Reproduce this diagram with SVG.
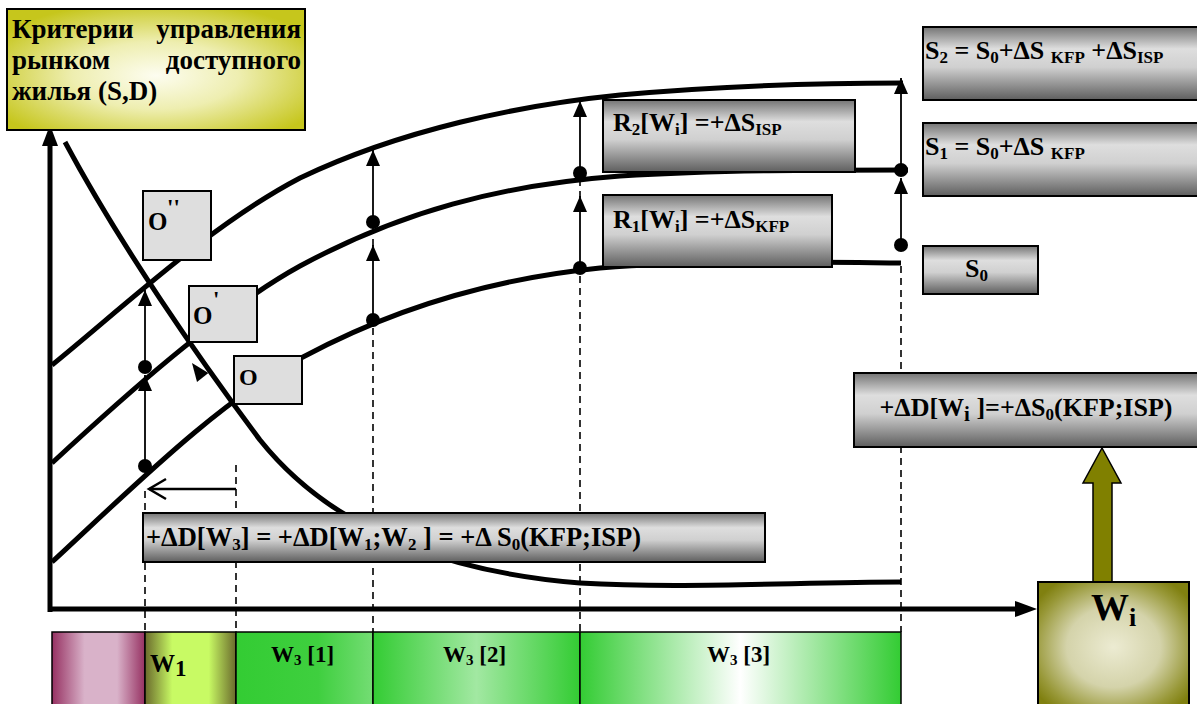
<svg xmlns="http://www.w3.org/2000/svg" width="1197" height="704" viewBox="0 0 1197 704">
  <defs>
    <style>
      .t { font-family: "Liberation Serif", "Times New Roman", serif; font-weight: bold; fill: #000; }
      .box { stroke: #000; stroke-width: 2; }
      .metal { fill: url(#metal); stroke: #000; stroke-width: 2; }
      .curve { fill: none; stroke: #000; stroke-width: 5; stroke-linecap: butt; }
      .axis { fill: none; stroke: #000; stroke-width: 5; }
      .thin { fill: none; stroke: #000; stroke-width: 1.8; }
      .dash { fill: none; stroke: #000; stroke-width: 1.6; stroke-dasharray: 7 5; }
      .seg { stroke: #000; stroke-width: 1.5; }
      .dot { fill: #000; }
      .sq { fill: #dedede; stroke: #000; stroke-width: 2; }
    </style>
    <linearGradient id="metal" x1="0" y1="0" x2="0" y2="1">
      <stop offset="0" stop-color="#747474"/>
      <stop offset="0.3" stop-color="#dedede"/>
      <stop offset="0.55" stop-color="#d0d0d0"/>
      <stop offset="1" stop-color="#5e5e5e"/>
    </linearGradient>
    <radialGradient id="yellowGlow" cx="0.5" cy="0.55" r="0.62">
      <stop offset="0" stop-color="#fdfdf0"/>
      <stop offset="0.45" stop-color="#eeeeb0"/>
      <stop offset="1" stop-color="#c6c61c"/>
    </radialGradient>
    <radialGradient id="oliveGlow" cx="0.5" cy="0.5" r="0.62">
      <stop offset="0" stop-color="#ecebd2"/>
      <stop offset="0.5" stop-color="#d4d3aa"/>
      <stop offset="0.85" stop-color="#989838"/>
      <stop offset="1" stop-color="#808010"/>
    </radialGradient>
    <linearGradient id="gPurple" x1="0" y1="0" x2="1" y2="0">
      <stop offset="0" stop-color="#963162"/>
      <stop offset="0.35" stop-color="#d9b2c9"/>
      <stop offset="0.7" stop-color="#d9b2c9"/>
      <stop offset="1" stop-color="#963162"/>
    </linearGradient>
    <linearGradient id="gLime" x1="0" y1="0" x2="1" y2="0">
      <stop offset="0" stop-color="#6a6a2c"/>
      <stop offset="0.3" stop-color="#c8fa64"/>
      <stop offset="0.7" stop-color="#c8fa64"/>
      <stop offset="1" stop-color="#6a6a2c"/>
    </linearGradient>
    <linearGradient id="gGreen1" x1="0" y1="0" x2="1" y2="0">
      <stop offset="0" stop-color="#33cc33"/>
      <stop offset="0.6" stop-color="#3fcf3f"/>
      <stop offset="1" stop-color="#74dd74"/>
    </linearGradient>
    <linearGradient id="gGreen2" x1="0" y1="0" x2="1" y2="0">
      <stop offset="0" stop-color="#33cc33"/>
      <stop offset="0.5" stop-color="#a2e8a2"/>
      <stop offset="1" stop-color="#33cc33"/>
    </linearGradient>
    <linearGradient id="gGreen3" x1="0" y1="0" x2="1" y2="0">
      <stop offset="0" stop-color="#33cc33"/>
      <stop offset="0.5" stop-color="#ffffff"/>
      <stop offset="1" stop-color="#33cc33"/>
    </linearGradient>
    <marker id="tip" viewBox="0 0 16 14" refX="16" refY="7" markerWidth="16" markerHeight="14" markerUnits="userSpaceOnUse" orient="auto">
      <path d="M0,0 L16,7 L0,14 Z" fill="#000"/>
    </marker>
  </defs>

  <!-- segmented W scale along the bottom -->
  <g id="scale">
    <rect class="seg" x="52" y="632" width="93" height="80" fill="url(#gPurple)"/>
    <rect class="seg" x="145" y="632" width="91" height="80" fill="url(#gLime)"/>
    <rect class="seg" x="236" y="632" width="137" height="80" fill="url(#gGreen1)"/>
    <rect class="seg" x="373" y="632" width="207" height="80" fill="url(#gGreen2)"/>
    <rect class="seg" x="580" y="632" width="321" height="80" fill="url(#gGreen3)"/>
    <text class="t" x="150" y="672" font-size="25">W<tspan font-size="23" dy="4">1</tspan></text>
    <text class="t" x="271" y="662" font-size="23">W<tspan font-size="15" dy="3">3</tspan><tspan dy="-3"> [1]</tspan></text>
    <text class="t" x="443" y="662" font-size="23">W<tspan font-size="15" dy="3">3</tspan><tspan dy="-3"> [2]</tspan></text>
    <text class="t" x="707" y="662" font-size="23">W<tspan font-size="15" dy="3">3</tspan><tspan dy="-3"> [3]</tspan></text>
  </g>

  <!-- axes, curves and auxiliary lines -->
  <g id="connectors">
    <!-- dashed projections -->
    <line class="dash" x1="145" y1="491" x2="145" y2="632"/>
    <line class="dash" x1="236" y1="465" x2="236" y2="632"/>
    <line class="dash" x1="373" y1="328" x2="373" y2="632"/>
    <line class="dash" x1="580" y1="276" x2="580" y2="632"/>
    <line class="dash" x1="901" y1="266" x2="901" y2="632"/>
    <line class="dash" x1="373" y1="246" x2="373" y2="228"/>
    <line class="dash" x1="580" y1="198" x2="580" y2="180"/>

    <!-- axes -->
    <path class="axis" d="M50,612 L50,142"/>
    <path d="M42,146 L50,125 L58,146 Z" fill="#000"/>
    <path class="axis" d="M48,609 L1018,609"/>
    <path d="M1015,601 L1037,609 L1015,617 Z" fill="#000"/>

    <!-- supply curves S0, S1, S2 -->
    <path class="curve" d="M52,562 C130,490 220,400 303,357 C400,305 500,278 600,268 C700,260 800,262 901,263"/>
    <path class="curve" d="M52,463 C120,400 220,310 300,266 C400,212 500,185 620,176 C720,170 820,170 908,170"/>
    <path class="curve" d="M52,365 C120,310 210,225 300,178 C400,130 520,105 620,95 C720,86 820,83 903,83"/>

    <!-- demand curve D -->
    <path class="curve" d="M65,142 C120,245 200,360 260,440 C320,515 420,570 580,583 C680,589 800,582 901,582"/>
    <path d="M192,363 L208.4,373 L197,382 Z" fill="#000"/>

    <!-- shift arrows between curves -->
    <line class="thin" x1="145" y1="466" x2="145" y2="375" marker-end="url(#tip)"/>
    <line class="thin" x1="145" y1="367" x2="145" y2="290" marker-end="url(#tip)"/>
    <line class="thin" x1="373" y1="320" x2="373" y2="245" marker-end="url(#tip)"/>
    <line class="thin" x1="373" y1="222" x2="373" y2="150" marker-end="url(#tip)"/>
    <line class="thin" x1="580" y1="268" x2="580" y2="196" marker-end="url(#tip)"/>
    <line class="thin" x1="580" y1="173" x2="580" y2="101" marker-end="url(#tip)"/>
    <line class="thin" x1="901" y1="245" x2="901" y2="178" marker-end="url(#tip)"/>
    <line class="thin" x1="901" y1="170" x2="901" y2="78" marker-end="url(#tip)"/>
    <circle class="dot" cx="145" cy="466" r="7"/>
    <circle class="dot" cx="145" cy="367" r="7"/>
    <circle class="dot" cx="373" cy="320" r="7"/>
    <circle class="dot" cx="373" cy="222" r="7"/>
    <circle class="dot" cx="580" cy="268" r="7"/>
    <circle class="dot" cx="580" cy="173" r="7"/>
    <circle class="dot" cx="901" cy="245" r="7"/>
    <circle class="dot" cx="901" cy="170" r="7"/>

    <!-- demand shift arrow -->
    <path d="M236,489 L149,489" fill="none" stroke="#000" stroke-width="2.5"/>
    <path d="M166,479 L149,489 L166,499" fill="none" stroke="#000" stroke-width="2.5"/>

    <!-- olive arrow from W_i -->
    <path d="M1093,583 L1093,483 L1083,483 L1102,448 L1121,483 L1112,483 L1112,583 Z" fill="#808000" stroke="#000" stroke-width="1.5"/>
  </g>

  <!-- title box -->
  <g id="title">
    <rect class="box" x="7" y="9" width="298" height="121" fill="url(#yellowGlow)"/>
    <text class="t" x="12" y="38" font-size="27">Критерии</text>
    <text class="t" x="301" y="38" font-size="27" text-anchor="end">управления</text>
    <text class="t" x="12" y="69" font-size="27">рынком</text>
    <text class="t" x="301" y="69" font-size="27" text-anchor="end">доступного</text>
    <text class="t" x="12" y="100" font-size="27">жилья (S,D)</text>
  </g>

  <!-- equilibrium points -->
  <g id="point-o2">
    <rect class="sq" x="143" y="191" width="68" height="69"/>
    <text class="t" x="148" y="230" font-size="25">O</text>
    <text class="t" x="167" y="215" font-size="23">''</text>
  </g>
  <g id="point-o1">
    <rect class="sq" x="189" y="286" width="68" height="56"/>
    <text class="t" x="193" y="324" font-size="25">O</text>
    <text class="t" x="213" y="307" font-size="23">'</text>
  </g>
  <g id="point-o">
    <rect class="sq" x="234" y="356" width="68" height="48"/>
    <text class="t" x="239" y="385" font-size="24">O</text>
  </g>

  <!-- effect labels -->
  <g id="r2">
    <rect class="metal" x="603" y="100" width="252" height="72"/>
    <text class="t" x="613" y="131" font-size="26">R<tspan font-size="17" dy="4">2</tspan><tspan dy="-4">[W</tspan><tspan font-size="17" dy="4">i</tspan><tspan dy="-4">] =+ΔS</tspan><tspan font-size="17" dy="4">ISP</tspan></text>
  </g>
  <g id="r1">
    <rect class="metal" x="603" y="195" width="229" height="72"/>
    <text class="t" x="613" y="228" font-size="26">R<tspan font-size="17" dy="4">1</tspan><tspan dy="-4">[W</tspan><tspan font-size="17" dy="4">i</tspan><tspan dy="-4">] =+ΔS</tspan><tspan font-size="17" dy="4">KFP</tspan></text>
  </g>
  <g id="s2">
    <rect class="metal" x="923" y="27" width="280" height="73"/>
    <text class="t" x="925" y="59" font-size="26">S<tspan font-size="17" dy="4">2</tspan><tspan dy="-4"> = S</tspan><tspan font-size="17" dy="4">0</tspan><tspan dy="-4">+ΔS </tspan><tspan font-size="17" dy="4">KFP</tspan><tspan dy="-4"> +ΔS</tspan><tspan font-size="17" dy="4">ISP</tspan></text>
  </g>
  <g id="s1">
    <rect class="metal" x="923" y="123" width="280" height="73"/>
    <text class="t" x="925" y="155" font-size="26">S<tspan font-size="17" dy="4">1</tspan><tspan dy="-4"> = S</tspan><tspan font-size="17" dy="4">0</tspan><tspan dy="-4">+ΔS </tspan><tspan font-size="17" dy="4">KFP</tspan></text>
  </g>
  <g id="s0">
    <rect class="metal" x="923" y="246" width="115" height="48"/>
    <text class="t" x="965" y="277" font-size="26">S<tspan font-size="17" dy="4">0</tspan></text>
  </g>
  <g id="delta-d-wi">
    <rect class="metal" x="854" y="373" width="350" height="74"/>
    <text class="t" x="1026" y="416" font-size="26" text-anchor="middle">+ΔD[W<tspan font-size="21" dy="5">i</tspan><tspan dy="-5"> ]=+ΔS</tspan><tspan font-size="17" dy="4">0</tspan><tspan dy="-4">(KFP;ISP)</tspan></text>
  </g>
  <g id="delta-d-w3">
    <rect class="metal" x="143" y="513" width="622" height="49"/>
    <text class="t" x="146" y="546" font-size="26.5">+ΔD[W<tspan font-size="17" dy="4">3</tspan><tspan dy="-4">] = +ΔD[W</tspan><tspan font-size="17" dy="4">1</tspan><tspan dy="-4">;W</tspan><tspan font-size="17" dy="4">2</tspan><tspan dy="-4"> ] = +Δ S</tspan><tspan font-size="17" dy="4">0</tspan><tspan dy="-4">(KFP;ISP)</tspan></text>
  </g>

  <!-- W_i factor box -->
  <g id="wi">
    <rect class="box" x="1038" y="582" width="151" height="130" fill="url(#oliveGlow)"/>
    <text class="t" x="1091" y="620" font-size="38">W<tspan font-size="26" dy="6">i</tspan></text>
  </g>
</svg>
